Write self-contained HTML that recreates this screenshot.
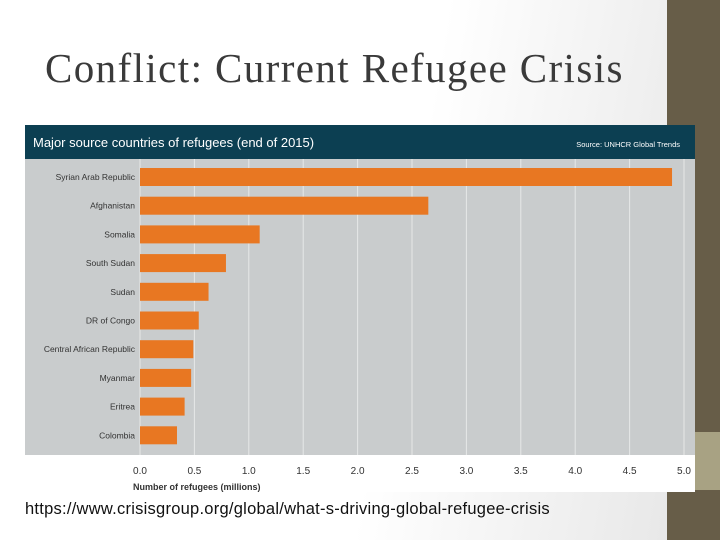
<!DOCTYPE html>
<html><head><meta charset="utf-8"><style>
body{margin:0;width:720px;height:540px;overflow:hidden;background:linear-gradient(100deg,#fff 55%,#e4e4e4 100%);font-family:"Liberation Sans",sans-serif;position:relative}
</style></head><body>
<div style="position:absolute;left:667px;top:0;width:53px;height:540px;background:#675d48"></div>
<div style="position:absolute;left:667px;top:432px;width:53px;height:58px;background:#a8a283"></div>
<div style="position:absolute;left:45px;top:44px;font-family:'Liberation Serif',serif;font-size:41px;color:#3a3a3a;letter-spacing:1.4px">Conflict: Current Refugee Crisis</div>
<svg style="position:absolute;left:0;top:0" width="720" height="540" id="c"></svg>
<div style="position:absolute;left:25px;top:500px;font-size:16.5px;letter-spacing:0.25px;color:#111">https://www.crisisgroup.org/global/what-s-driving-global-refugee-crisis</div>
<script>
const categories=["Syrian Arab Republic","Afghanistan","Somalia","South Sudan","Sudan","DR of Congo","Central African Republic","Myanmar","Eritrea","Colombia"];
const values=[4.89,2.65,1.10,0.79,0.63,0.54,0.49,0.47,0.41,0.34];
const ticks=[0,0.5,1,1.5,2,2.5,3,3.5,4,4.5,5];
const NS="http://www.w3.org/2000/svg",s=document.getElementById('c');
function el(t,a,txt){const e=document.createElementNS(NS,t);for(const k in a)e.setAttribute(k,a[k]);if(txt!==undefined)e.textContent=txt;s.appendChild(e);return e;}
const x=v=>140+v*108.8, y=i=>177+i*28.7;
let e;
e=el('rect',{x:25,y:125,width:670,height:367,fill:'#fff'});

e=el('rect',{x:25,y:125,width:670,height:34,fill:'#0c3f52'});

e=el('text',{x:33,y:147,fill:'#fff','font-size':13},'Major source countries of refugees (end of 2015)');

e=el('text',{x:680,y:147,fill:'#fff','font-size':7.5,'text-anchor':'end'},'Source: UNHCR Global Trends');

e=el('rect',{x:25,y:159,width:670,height:296,fill:'#c9cccd'});

ticks.forEach(t=>{
 e=el('line',{x1:x(t),x2:x(t),y1:159,y2:455,stroke:'#e6e8e8','stroke-width':1});
 
 e=el('text',{x:x(t),y:474,'font-size':10,fill:'#333','text-anchor':'middle'},t.toFixed(1));
 
});
categories.forEach((c,i)=>{
 e=el('rect',{x:x(0),y:y(i)-9,width:x(values[i])-x(0),height:18,fill:'#e87722'});
 
 e=el('text',{x:135,y:y(i)+3,'font-size':8.5,fill:'#333','text-anchor':'end'},c);
 
});
e=el('text',{x:133,y:490,'font-size':9,'font-weight':'bold',fill:'#333'},'Number of refugees (millions)');

</script>
</body></html>
